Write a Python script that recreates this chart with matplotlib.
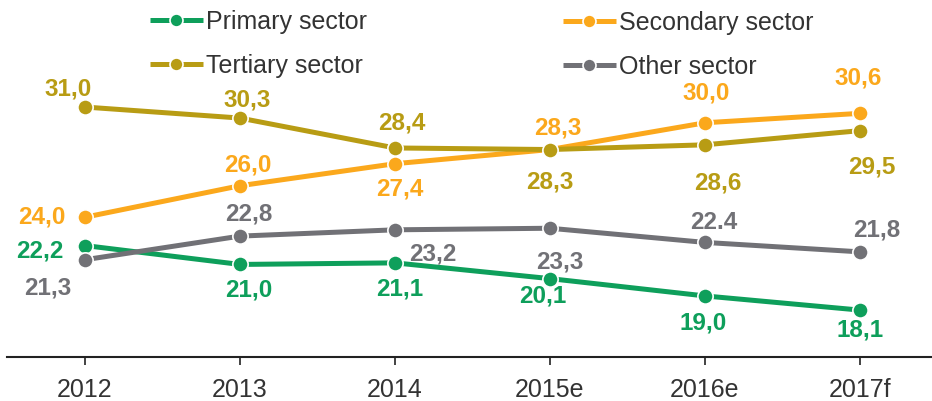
import numpy as np
from matplotlib import pyplot as plt

plt.rcParams['font.family'] = ['Liberation Sans', 'DejaVu Sans']

years = ["2012", "2013", "2014", "2015e", "2016e", "2017f"]

primary = [22.2, 21.0, 21.1, 20.1, 19.0, 18.1]
secondary = [24.0, 26.0, 27.4, 28.3, 30.0, 30.6]
tertiary = [31.0, 30.3, 28.4, 28.3, 28.6, 29.5]
other = [21.3, 22.8, 23.2, 23.3, 22.4, 21.8]

primary_lbl = ["22,2", "21,0", "21,1", "20,1", "19,0", "18,1"]
secondary_lbl = ["24,0", "26,0", "27,4", "28,3", "30,0", "30,6"]
tertiary_lbl = ["31,0", "30,3", "28,4", "28,3", "28,6", "29,5"]
other_lbl = ["21,3", "22,8", "23,2", "23,3", "22.4", "21,8"]

GREEN = "#0E9F5B"
ORANGE = "#FBA81C"
OLIVE = "#B89C14"
GREY = "#717176"

# label offsets in pixels (dx, dy)
off_primary = [(-45, -5), (9, -26), (5, -26), (-7, -17), (-2, -27), (0, -20)]
off_secondary = [(-43, 0), (8, 21), (5, -25), (8, 22), (1, 30), (-2, 35)]
off_tertiary = [(-17, 18), (7, 18), (7, 25), (0, -32), (13, -38), (12, -36)]
off_other = [(-37, -28), (9, 22), (38, -24), (10, -34), (9, 20), (17, 22)]

fig = plt.figure(figsize=(9.32, 4.01), dpi=100)
ax = fig.add_axes([7 / 932, (401 - 357) / 401, 1 - 7 / 932, 357 / 401])

x = np.arange(len(years))
series = [
    ("Primary sector", primary, primary_lbl, off_primary, GREEN),
    ("Secondary sector", secondary, secondary_lbl, off_secondary, ORANGE),
    ("Tertiary sector", tertiary, tertiary_lbl, off_tertiary, OLIVE),
    ("Other sector", other, other_lbl, off_other, GREY),
]

lines = {}
for name, vals, lbls, offs, col in series:
    ln, = ax.plot(x, vals, color=col, lw=3.6, marker='o', ms=11,
                  mec='white', mew=1.2, label=name, solid_capstyle='butt')
    lines[name] = ln
    for xi, v, t, (dx, dy) in zip(x, vals, lbls, offs):
        ax.annotate(t, (xi, v), xytext=(dx, dy), textcoords='offset pixels',
                    ha='center', va='center', fontsize=17.5,
                    fontweight='bold', color=col)

ax.set_xlim(-0.503, 5.465)
ax.set_ylim(15.12, 37.8)

for s in ['top', 'right', 'left']:
    ax.spines[s].set_visible(False)
ax.spines['bottom'].set_color('#222222')
ax.spines['bottom'].set_linewidth(1.5)
ax.set_yticks([])
ax.set_xticks(x)
ax.set_xticklabels(years)
ax.tick_params(axis='x', length=6, width=1.2, color='#222222',
               labelsize=18, labelcolor='#333333', pad=9)

leg_kw = dict(frameon=False, fontsize=18, handlelength=2.1,
              handletextpad=0.15, labelspacing=0.8, labelcolor='#333333',
              borderaxespad=0, borderpad=0, markerscale=0.85)
leg1 = ax.legend([lines["Primary sector"], lines["Tertiary sector"]],
                 ["Primary sector", "Tertiary sector"], loc='upper left',
                 bbox_to_anchor=(150 / 932, 1 - 10 / 401),
                 bbox_transform=fig.transFigure, **leg_kw)
ax.add_artist(leg1)
ax.legend([lines["Secondary sector"], lines["Other sector"]],
          ["Secondary sector", "Other sector"], loc='upper left',
          bbox_to_anchor=(563 / 932, 1 - 11 / 401),
          bbox_transform=fig.transFigure, **leg_kw)

plt.savefig("out.png", dpi=100)
